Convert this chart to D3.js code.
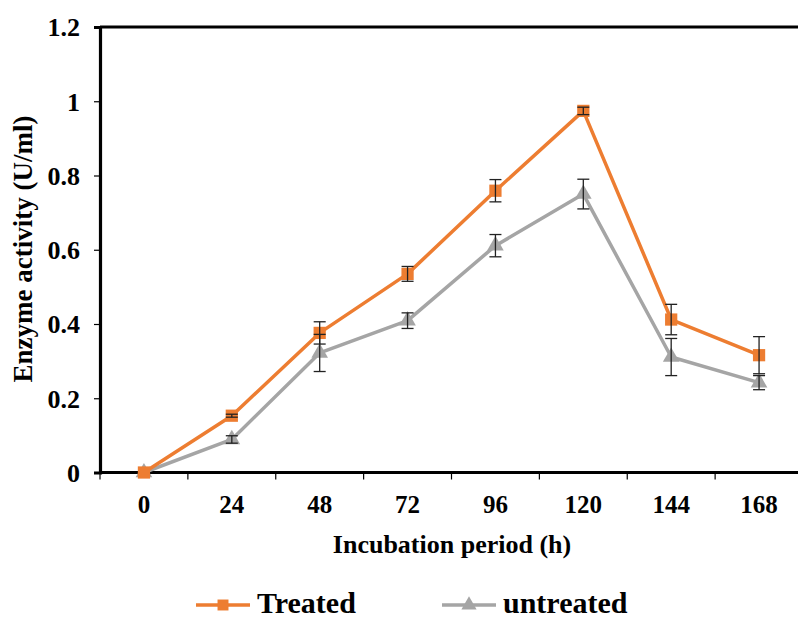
<!DOCTYPE html>
<html>
<head>
<meta charset="utf-8">
<script src="https://cdn.jsdelivr.net/npm/d3@7/dist/d3.min.js"></script>
<style>
  html, body { margin: 0; padding: 0; background: #fff; }
  svg { display: block; }
  text { font-family: "Liberation Serif", "Times New Roman", serif; font-weight: bold; fill: #000; }
</style>
</head>
<body>
<div id="chart"></div>
<script>
const categories = ["0", "24", "48", "72", "96", "120", "144", "168"];
const treated = [0, 0.153, 0.376, 0.535, 0.759, 0.974, 0.412, 0.316];
const treatedErr = [0, 0.004, 0.03, 0.02, 0.03, 0.01, 0.041, 0.05];
const untreated = [0, 0.089, 0.322, 0.409, 0.611, 0.750, 0.311, 0.242];
const untreatedErr = [0, 0.01, 0.05, 0.021, 0.03, 0.04, 0.05, 0.019];
const yTicks = [0, 0.2, 0.4, 0.6, 0.8, 1, 1.2];
const seriesNames = ["Treated", "untreated"];
const colors = ["#ED7D31", "#A5A5A5"];

const W = 798, H = 618;
const svg = d3.select("#chart").append("svg").attr("width", W).attr("height", H);

const x = d3.scaleBand().domain(categories).range([100, 803]);
const y = d3.scaleLinear().domain([0, 1.2]).range([472.5, 27]);
const cx = c => x(c) + x.bandwidth() / 2;

// top border
svg.append("line").attr("x1", 100).attr("x2", 803).attr("y1", y(1.2)).attr("y2", y(1.2))
  .attr("stroke", "#000").attr("stroke-width", 3.2);

// y axis
const yAxis = d3.axisLeft(y).tickValues(yTicks).tickSize(6).tickPadding(14)
  .tickFormat(d => d3.format("")(d));
const gy = svg.append("g").attr("transform", "translate(100,0)").call(yAxis);
gy.select(".domain").attr("stroke", "#000").attr("stroke-width", 3.2);
gy.selectAll(".tick line").attr("stroke", "#000").attr("stroke-width", 1.2);
gy.selectAll(".tick text").attr("font-size", 26).attr("dy", "0.34em")
  .style("font-family", "'Liberation Serif', serif").style("font-weight", "bold");

// x axis: ticks at band boundaries, labels at band centres
const gx = svg.append("g").attr("transform", `translate(0,${y(0)})`);
gx.append("line").attr("x1", 100).attr("x2", 803).attr("y1", 0).attr("y2", 0)
  .attr("stroke", "#000").attr("stroke-width", 3.2);
gx.selectAll("line.tk").data(categories).join("line").attr("class", "tk")
  .attr("x1", d => x(d)).attr("x2", d => x(d)).attr("y1", 0).attr("y2", 7)
  .attr("stroke", "#000").attr("stroke-width", 1.2);
gx.selectAll("text").data(categories).join("text")
  .attr("x", d => cx(d)).attr("y", 40).attr("text-anchor", "middle")
  .attr("font-size", 25).text(d => d);

// axis titles
svg.append("text").attr("x", 452).attr("y", 553).attr("text-anchor", "middle")
  .attr("font-size", 26).text("Incubation period (h)");
svg.append("text").attr("transform", "translate(32,249) rotate(-90)")
  .attr("text-anchor", "middle").attr("font-size", 27).text("Enzyme activity (U/ml)");

const series = [
  { name: seriesNames[0], values: treated, err: treatedErr, color: colors[0], shape: d3.symbolSquare },
  { name: seriesNames[1], values: untreated, err: untreatedErr, color: colors[1], shape: d3.symbolTriangle }
];

const line = d3.line().x((d, i) => cx(categories[i])).y(d => y(d));

// draw untreated first, then treated on top
[series[1], series[0]].forEach(s => {
  svg.append("path").datum(s.values).attr("d", line)
    .attr("fill", "none").attr("stroke", s.color).attr("stroke-width", 3.5)
    .attr("stroke-linejoin", "round");
  const symSize = s.shape === d3.symbolSquare ? 150 : 120;
  svg.selectAll(null).data(s.values).join("path")
    .attr("d", d3.symbol().type(s.shape).size(symSize))
    .attr("transform", (d, i) => `translate(${cx(categories[i])},${y(d)})`)
    .attr("fill", s.color);
});

// error bars
series.forEach(s => {
  const g = svg.append("g").attr("stroke", "#222").attr("stroke-width", 1.3);
  s.values.forEach((v, i) => {
    const e = s.err[i];
    if (e <= 0) return;
    const xc = cx(categories[i]);
    g.append("line").attr("x1", xc).attr("x2", xc).attr("y1", y(v + e)).attr("y2", y(v - e));
    g.append("line").attr("x1", xc - 6).attr("x2", xc + 6).attr("y1", y(v + e)).attr("y2", y(v + e));
    g.append("line").attr("x1", xc - 6).attr("x2", xc + 6).attr("y1", y(v - e)).attr("y2", y(v - e));
  });
});

// legend
const legendX = [196, 442];
series.forEach((s, i) => {
  const g = svg.append("g").attr("transform", `translate(${legendX[i]},605)`);
  g.append("line").attr("x1", 0).attr("x2", 54).attr("y1", 0).attr("y2", 0)
    .attr("stroke", s.color).attr("stroke-width", 3.5);
  g.append("path").attr("d", d3.symbol().type(s.shape).size(s.shape === d3.symbolSquare ? 120 : 100))
    .attr("transform", "translate(27,0)").attr("fill", s.color);
  g.append("text").attr("x", 61).attr("y", 8).attr("font-size", 30).text(s.name);
});
</script>
</body>
</html>
